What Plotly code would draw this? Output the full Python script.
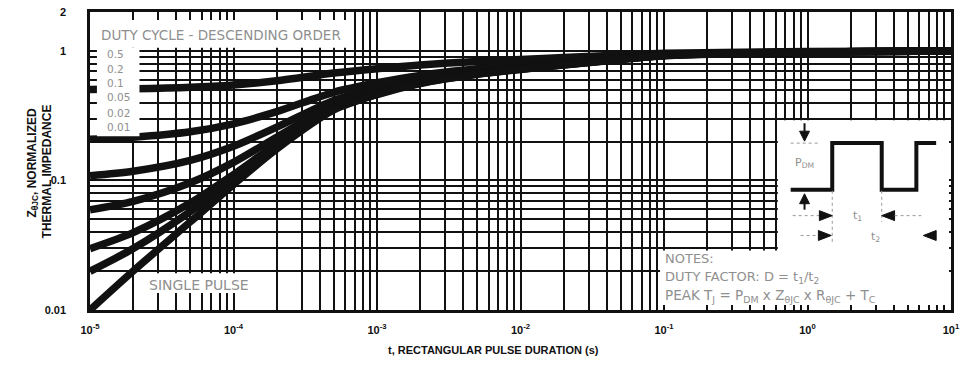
import plotly.graph_objects as go

# Pulse duration (s) and normalized thermal impedance for each duty cycle
t_s = [1e-5, 2e-5, 5e-5, 1e-4, 2e-4, 5e-4, 1e-3, 2e-3, 5e-3, 1e-2, 2e-2, 5e-2, 1e-1, 1.0, 10.0]
z_d050 = [0.505, 0.51, 0.524, 0.547, 0.588, 0.675, 0.73, 0.78, 0.83, 0.86, 0.89, 0.93, 0.96, 0.99, 1.0]
z_d020 = [0.208, 0.216, 0.238, 0.274, 0.34, 0.48, 0.568, 0.648, 0.728, 0.776, 0.824, 0.888, 0.936, 0.984, 1.0]
z_d010 = [0.109, 0.118, 0.143, 0.184, 0.258, 0.415, 0.514, 0.604, 0.694, 0.748, 0.802, 0.874, 0.928, 0.982, 1.0]
z_d005 = [0.0595, 0.069, 0.096, 0.138, 0.216, 0.383, 0.487, 0.582, 0.677, 0.734, 0.791, 0.867, 0.924, 0.981, 1.0]
z_d002 = [0.0298, 0.0396, 0.067, 0.111, 0.192, 0.363, 0.471, 0.569, 0.667, 0.726, 0.784, 0.863, 0.922, 0.98, 1.0]
z_d001 = [0.0199, 0.0298, 0.0575, 0.102, 0.183, 0.357, 0.465, 0.564, 0.663, 0.723, 0.782, 0.861, 0.921, 0.98, 1.0]
z_single = [0.01, 0.02, 0.048, 0.093, 0.175, 0.35, 0.46, 0.56, 0.66, 0.72, 0.78, 0.86, 0.92, 0.98, 1.0]

duty_labels = ["0.5", "0.2", "0.1", "0.05", "0.02", "0.01"]

x_tick_values = [1e-5, 1e-4, 1e-3, 1e-2, 1e-1, 1.0, 10.0]
x_tick_labels = ["10<sup>-5</sup>", "10<sup>-4</sup>", "10<sup>-3</sup>", "10<sup>-2</sup>",
                 "10<sup>-1</sup>", "10<sup>0</sup>", "10<sup>1</sup>"]
y_tick_values = [0.01, 0.1, 1, 2]
y_tick_labels = ["0.01", "0.1", "1", "2"]

# Minor grid: every digit of every decade
x_grid = [k * 10.0 ** d for d in range(-5, 1) for k in range(2, 10)]
y_grid = [k * 10.0 ** d for d in range(-2, 0) for k in range(2, 10)]

W, H = 966, 365
L, R, T, B = 90, 6, 10, 55
PW, PH = W - L - R, H - T - B
X_LOG = (-5.0, 1.0)
Y_LOG = (-2.0, 0.30103)


def px(x):
    return (x - L) / PW


def py(y):
    return (T + PH - y) / PH


fig = go.Figure()
for z in [z_d050, z_d020, z_d010, z_d005, z_d002, z_d001, z_single]:
    fig.add_trace(go.Scatter(x=t_s, y=z, mode="lines",
                             line=dict(color="#111111", width=7.5, shape="spline", smoothing=0.8),
                             showlegend=False, hoverinfo="skip"))

shapes = []
annotations = []


def box(x0, y0, x1, y1):
    shapes.append(dict(type="rect", xref="paper", yref="paper",
                       x0=px(x0), x1=px(x1), y0=py(y1), y1=py(y0),
                       fillcolor="white", line=dict(width=0), layer="above"))


# Cleared label areas inside the grid (short tick stubs stay visible at the frame)
box(92, 18, 352, 46)
box(97, 46, 140, 135)
box(140, 273, 262, 293)
box(666, 250, 958, 305)
box(785, 119, 958, 305)


def path(points, color="#111111", width=4, dash="solid", fill=None):
    d = "M " + " L ".join(f"{px(a):.5f},{py(b):.5f}" for a, b in points)
    s = dict(type="path", xref="paper", yref="paper", path=d + (" Z" if fill else ""),
             line=dict(color=color, width=width, dash=dash), layer="above")
    if fill:
        s["fillcolor"] = fill
    shapes.append(s)


# Pulse train sketch
path([(798, 189), (840, 189), (840, 142), (890, 142), (890, 189),
      (925, 189), (925, 142), (945, 142)], width=4)
# Amplitude markers
path([(812, 122), (812, 131)], width=2)
path([(807, 130), (817, 130), (812, 140)], width=1, fill="#111111")
path([(798, 142), (828, 142)], color="#999999", width=1, dash="dot")
path([(812, 202), (812, 209)], width=2)
path([(807, 203), (817, 203), (812, 193)], width=1, fill="#111111")
# Dimension guides for t1 and t2
path([(840, 190), (840, 243)], color="#999999", width=1, dash="dot")
path([(890, 190), (890, 221)], color="#999999", width=1, dash="dot")
path([(800, 215), (828, 215)], color="#999999", width=1, dash="dot")
path([(827, 210), (827, 220), (840, 215)], width=1, fill="#111111")
path([(903, 210), (903, 220), (890, 215)], width=1, fill="#111111")
path([(903, 215), (930, 215)], color="#999999", width=1, dash="dot")
path([(808, 235), (826, 235)], color="#999999", width=1, dash="dot")
path([(826, 230), (826, 240), (839, 235)], width=1, fill="#111111")
path([(945, 230), (945, 240), (932, 235)], width=1, fill="#111111")

GRAY = "#8f8f8f"
NOTE_FONT = "DejaVu Sans"
BOLD_FONT = "Liberation Sans"


def label(x, y, text, size=10, color=GRAY, anchor="left", bold=False, angle=0, family=NOTE_FONT):
    annotations.append(dict(xref="paper", yref="paper", x=px(x), y=py(y), text=text,
                            showarrow=False, xanchor=anchor, yanchor="middle",
                            textangle=angle,
                            font=dict(family=family, size=size, color=color,
                                      weight="bold" if bold else "normal")))


label(99, 33, "DUTY CYCLE - DESCENDING ORDER", size=13.5)
for lbl, yy in zip(duty_labels, [52, 67, 81, 96, 112, 126]):
    label(105, yy, lbl, size=10.5)
label(200, 285, "SINGLE PULSE", size=14, anchor="center")
label(669, 258, "NOTES:", size=13)
label(669, 277, "DUTY FACTOR: D = t<sub>1</sub>/t<sub>2</sub>", size=13)
label(669, 296, "PEAK T<sub>J</sub> = P<sub>DM</sub> x Z<sub>θJC</sub> x R<sub>θJC</sub> + T<sub>C</sub>", size=13.5)
label(812, 162, "P<sub>DM</sub>", size=11, anchor="center")
label(866, 215, "t<sub>1</sub>", size=11, anchor="center")
label(884, 237, "t<sub>2</sub>", size=11, anchor="center")

# Axis titles
label(498, 350, "t, RECTANGULAR PULSE DURATION (s)", size=11, color="#111111", anchor="center",
      bold=True, family=BOLD_FONT)
label(32, 162, "Z<sub>θJC</sub>, NORMALIZED", size=12, color="#111111", anchor="center",
      bold=True, angle=-90, family=BOLD_FONT)
label(46, 170, "THERMAL IMPEDANCE", size=12, color="#111111", anchor="center",
      bold=True, angle=-90, family=BOLD_FONT)

axis_common = dict(type="log", showgrid=True, gridcolor="#111111", gridwidth=1.8,
                   showline=True, linecolor="#111111", linewidth=2.5, mirror=True,
                   ticks="", zeroline=False,
                   tickfont=dict(family=BOLD_FONT, size=11, color="#111111", weight="bold"))

fig.update_layout(
    width=W, height=H,
    margin=dict(l=L, r=R, t=T, b=B),
    paper_bgcolor="white", plot_bgcolor="white",
    xaxis=dict(range=list(X_LOG), tickmode="array", tickvals=x_tick_values, ticktext=x_tick_labels,
               ticklabelstandoff=8,
               minor=dict(tickmode="array", tickvals=x_grid, showgrid=True,
                          gridcolor="#111111", gridwidth=1.8, ticks=""),
               **axis_common),
    yaxis=dict(range=list(Y_LOG), tickmode="array", tickvals=y_tick_values, ticktext=y_tick_labels,
               ticklabelstandoff=19,
               minor=dict(tickmode="array", tickvals=y_grid, showgrid=True,
                          gridcolor="#111111", gridwidth=1.8, ticks=""),
               **axis_common),
    shapes=shapes, annotations=annotations,
)

fig.write_html("out.html")
